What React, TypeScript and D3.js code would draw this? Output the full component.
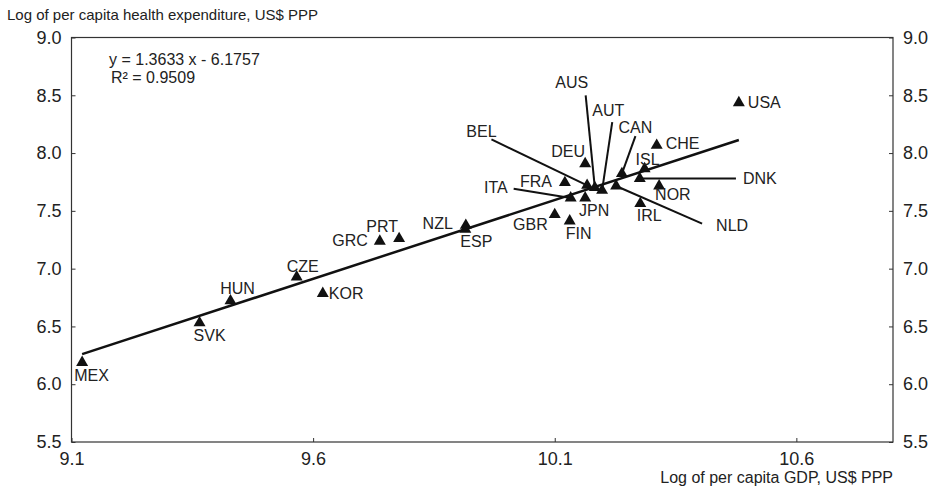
import React, { useEffect, useRef } from "react";
import * as d3 from "d3";

// log GDP per capita (x) and log health spending per capita (y)
const countries = ["MEX", "SVK", "HUN", "CZE", "KOR", "GRC", "PRT", "NZL", "ESP", "GBR", "FIN", "ITA", "JPN", "FRA", "DEU", "BEL", "AUS", "AUT", "NLD", "CAN", "ISL", "DNK", "IRL", "CHE", "NOR", "USA"];
const gdp = [9.122, 9.365, 9.429, 9.566, 9.62, 9.738, 9.778, 9.916, 9.915, 10.1, 10.131, 10.133, 10.163, 10.121, 10.163, 10.167, 10.183, 10.198, 10.227, 10.239, 10.286, 10.276, 10.277, 10.311, 10.316, 10.481];
const health = [6.188, 6.531, 6.721, 6.928, 6.785, 7.237, 7.26, 7.375, 7.34, 7.468, 7.412, 7.611, 7.611, 7.744, 7.908, 7.721, 7.701, 7.678, 7.715, 7.822, 7.865, 7.779, 7.563, 8.067, 7.715, 8.436];

// labels that sit at the end of a leader line (line starts here, in data units)
const leaderCountries = ["BEL", "AUS", "AUT", "CAN", "DNK", "NLD", "ITA"];
const leaderX = [9.969, 10.164, 10.219, 10.267, 10.475, 10.405, 10.015];
const leaderY = [8.118, 8.499, 8.268, 8.147, 7.779, 7.39, 7.692];

const slope = 1.3633;
const intercept = -6.1757;
const equationLines = ["y = 1.3633 x - 6.1757", "R\u00b2 = 0.9509"];

const xTicks = [9.1, 9.6, 10.1, 10.6];
const yTicks = [5.5, 6.0, 6.5, 7.0, 7.5, 8.0, 8.5, 9.0];

const yTitle = "Log of per capita health expenditure, US$ PPP";
const xTitle = "Log of per capita GDP, US$ PPP";

// label placement, pixels relative to the triangle (or leader start)
const labelPos: Record<string, [number, number, string]> = {
  MEX: [-8, 13, "start"],
  SVK: [10, 13, "middle"],
  HUN: [7, -12, "middle"],
  CZE: [6, -11, "middle"],
  KOR: [6, 0, "start"],
  GRC: [-12, -1, "end"],
  PRT: [-17, -12, "middle"],
  NZL: [-13, -2, "end"],
  ESP: [11, 12, "middle"],
  USA: [9, 0, "start"],
  CHE: [9, -2, "start"],
  DEU: [-17, -12, "middle"],
  ISL: [3, -9, "middle"],
  FRA: [-13, -1, "end"],
  NOR: [-4, 8, "start"],
  JPN: [9, 12, "middle"],
  IRL: [9, 12, "middle"],
  GBR: [-7, 10, "end"],
  FIN: [9, 12, "middle"],
  BEL: [-10, -8, "middle"],
  AUS: [-14, -13, "middle"],
  AUT: [-4, -12, "middle"],
  CAN: [0, -9, "middle"],
  DNK: [7, 0, "start"],
  NLD: [14, 2, "start"],
  ITA: [-6, -1, "end"],
};

const FONT = "'Liberation Sans', Arial, Helvetica, sans-serif";
const INK = "#222";

export default function App() {
  const ref = useRef<SVGSVGElement>(null);

  useEffect(() => {
    const svg = d3.select(ref.current);
    svg.selectAll("*").remove();

    const left = 71.5, right = 893, top = 37.5, bottom = 442;
    const x = d3.scaleLinear().domain([9.1, 10.8]).range([left, right]);
    const y = d3.scaleLinear().domain([5.5, 9.0]).range([bottom, top]);

    svg.append("text")
      .attr("x", 7)
      .attr("y", 20)
      .style("font-size", "15px")
      .attr("fill", INK)
      .text(yTitle);

    svg.append("text")
      .attr("x", 893)
      .attr("y", 483)
      .attr("text-anchor", "end")
      .style("font-size", "16px")
      .attr("fill", INK)
      .text(xTitle);

    const fmt = d3.format(".1f");

    const styleAxis = (g: any) => {
      g.select(".domain").remove();
      g.selectAll(".tick line").attr("stroke", "#333");
      g.selectAll(".tick text")
        .attr("fill", INK)
        .style("font-size", "18px")
        .style("font-family", FONT);
    };

    svg.append("g")
      .attr("transform", `translate(${left},0)`)
      .call(d3.axisLeft(y).tickValues(yTicks).tickFormat(fmt as any).tickSizeInner(-4).tickSizeOuter(0).tickPadding(10))
      .call(styleAxis);

    svg.append("g")
      .attr("transform", `translate(${right},0)`)
      .call(d3.axisRight(y).tickValues(yTicks).tickFormat(fmt as any).tickSizeInner(-4).tickSizeOuter(0).tickPadding(10))
      .call(styleAxis);

    svg.append("g")
      .attr("transform", `translate(0,${bottom})`)
      .call(d3.axisBottom(x).tickValues(xTicks).tickFormat(fmt as any).tickSizeInner(-4).tickSizeOuter(0).tickPadding(10))
      .call(styleAxis);

    // plot frame
    svg.append("rect")
      .attr("x", left)
      .attr("y", top)
      .attr("width", right - left)
      .attr("height", bottom - top)
      .attr("fill", "none")
      .attr("stroke", "#333")
      .attr("stroke-width", 1.2);

    // trend line across the data range
    const x0 = d3.min(gdp) as number;
    const x1 = d3.max(gdp) as number;
    svg.append("line")
      .attr("x1", x(x0))
      .attr("y1", y(slope * x0 + intercept))
      .attr("x2", x(x1))
      .attr("y2", y(slope * x1 + intercept))
      .attr("stroke", "#111")
      .attr("stroke-width", 2.5);

    const eq = svg.append("text")
      .attr("x", 109)
      .attr("y", 65)
      .style("font-size", "16px")
      .attr("fill", INK);
    eq.append("tspan").attr("x", 109).attr("y", 65).text(equationLines[0]);
    eq.append("tspan").attr("x", 111).attr("y", 83).text(equationLines[1]);

    const points = countries.map((c, i) => ({ c, gx: gdp[i], hy: health[i] }));

    // leader lines
    leaderCountries.forEach((c, i) => {
      const p = points.find((d) => d.c === c)!;
      svg.append("line")
        .attr("x1", x(leaderX[i]))
        .attr("y1", y(leaderY[i]))
        .attr("x2", x(p.gx))
        .attr("y2", y(p.hy))
        .attr("stroke", "#111")
        .attr("stroke-width", 2);
    });

    const tri = d3.symbol().type(d3.symbolTriangle).size(62);
    svg.append("g")
      .selectAll("path")
      .data(points)
      .enter()
      .append("path")
      .attr("d", tri as any)
      .attr("transform", (d) => `translate(${x(d.gx)},${y(d.hy)})`)
      .attr("fill", "#111");

    // country labels
    points.forEach((p) => {
      const li = leaderCountries.indexOf(p.c);
      const ax = li >= 0 ? x(leaderX[li]) : x(p.gx);
      const ay = li >= 0 ? y(leaderY[li]) : y(p.hy);
      const [dx, dy, anchor] = labelPos[p.c];
      svg.append("text")
        .attr("x", ax + dx)
        .attr("y", ay + dy)
        .attr("dy", "0.35em")
        .attr("text-anchor", anchor)
        .style("font-size", "16px")
        .attr("fill", INK)
        .text(p.c);
    });
  }, []);

  return (
    <div style={{ position: "absolute", left: 0, top: 0 }}>
      <svg
        ref={ref}
        width={936}
        height={486}
        style={{ display: "block", fontFamily: FONT, background: "#fff" }}
      />
    </div>
  );
}
